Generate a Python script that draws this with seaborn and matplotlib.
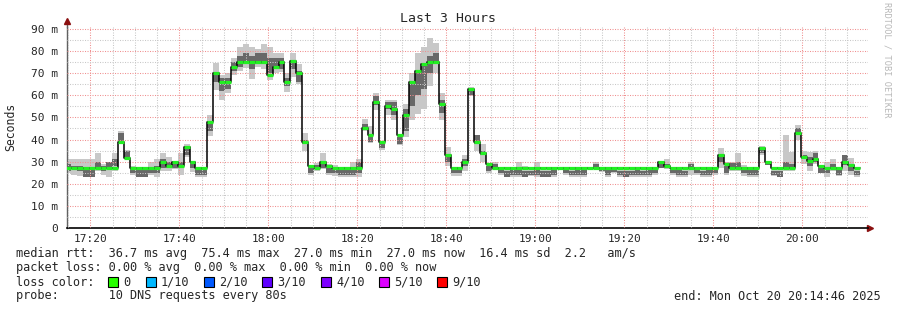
import numpy as np
import pandas as pd
import matplotlib
matplotlib.use("Agg")
import matplotlib.pyplot as plt
import matplotlib.dates as mdates
from matplotlib.patches import Rectangle
import seaborn as sns

# ---------------- data ----------------
step_seconds = 80
first_step = "2025-10-20 17:14:18"
view_start = "2025-10-20 17:14:46"
view_end = "2025-10-20 20:14:46"

median_ms = [27, 27, 27, 27, 27, 27, 27, 27, 27, 39, 31.5, 27, 27, 27, 27, 27,
             30, 28, 30, 28, 36.5, 30, 27, 27, 48, 70, 66, 66, 73,
             75, 75, 75, 75, 75, 69, 73, 75, 66, 75.5, 70,
             39, 28, 27, 30, 28, 27, 27, 27, 27, 27,
             45, 42, 57, 39, 55, 54, 42, 51, 66, 71, 74, 75, 75, 56, 33,
             27, 27, 30, 63, 39, 34, 29,
             27, 27, 27, 27, 27, 27, 27, 27, 27, 27, 27, 27, 27, 27,
             27, 27, 27, 27, 27, 27, 27, 27, 27, 27, 27, 27, 27, 27,
             30, 28, 27, 27, 27, 27, 27, 27, 27, 27, 33, 29,
             27, 27, 27, 27, 27, 36, 30, 27, 27, 27, 27,
             43, 32, 30.5, 31, 28, 27, 27, 27, 30, 28.5, 27]

smoke_lo = [25, 24, 23.5, 23, 23, 26, 24, 23, 26, 38.5, 31, 24, 23, 23, 24, 23,
            26, 26, 26.5, 24, 32, 25.5, 23, 23, 41.5, 62.5, 58, 61, 69,
            71, 72.5, 67.5, 73, 72, 67, 70, 70.7, 61.5, 68.5, 65,
            35, 24, 26, 26.5, 24, 23.5, 23, 23, 23, 23,
            44, 38.5, 53.5, 35.5, 51, 49, 37.5, 41, 49, 51.5, 54, 64, 70, 49, 28,
            23.5, 23.5, 26, 59.5, 35, 30, 25,
            26.3, 24, 23, 23, 23, 23, 23.3, 23, 23, 23, 23, 26.5, 24, 23,
            23, 23, 26.3, 26.5, 25.5, 23, 25, 23, 23, 23, 23, 23, 23, 24,
            27, 26.5, 24, 23, 23, 24, 24, 23, 23, 24, 27, 24,
            26, 26, 23.7, 23, 23, 33, 28.5, 23.7, 23, 26, 26,
            40, 29, 26, 29, 24.7, 23, 26, 23.7, 26, 24, 23]

smoke_hi = [31, 31, 31, 31, 31, 34, 29, 30, 34, 44, 35.5, 28, 27, 27, 30, 31,
            34, 32, 30.5, 34, 38, 30.5, 27, 27, 51, 74.5, 69, 70, 77,
            82, 83, 82, 81, 83, 82, 79, 79, 70, 79, 74,
            43, 28.5, 29.5, 34, 29, 28.5, 27, 27, 30, 31,
            49.5, 46, 61, 39.5, 58, 58, 42, 56, 70, 79, 82, 86, 83.5, 61, 36.5,
            27.5, 27.5, 33, 63.7, 42, 38, 29.5,
            30, 27.8, 27, 27, 30, 28, 27, 30, 27.4, 27, 27, 27, 27, 27,
            27, 27, 27.4, 30, 27.8, 27, 27, 27, 27, 27, 27, 27, 27, 27,
            30, 31, 27.8, 27, 27, 30, 27.8, 27, 27, 27, 36, 30,
            30, 34, 28.5, 27, 27, 37, 30, 27, 27, 42, 34.5,
            46.5, 35, 34.5, 35, 28.5, 30, 31, 27, 33, 31.5, 27]

core_lo = [26, 26.5, 26, 23, 23, 27, 26, 27, 28, 39, 31.5, 25, 23, 23, 25, 25,
           27, 27, 27, 27, 33, 27, 24, 24, 44, 66, 62, 63, 71,
           73, 74, 72, 74, 74, 70, 72, 72, 64, 72, 66,
           38, 25, 26.5, 27, 25, 25, 24, 24, 24, 25,
           44.5, 39, 55.5, 36, 54, 51, 38, 44, 55, 60, 63, 70, 74, 52, 30,
           25, 25, 28, 60, 38, 33, 26,
           27, 25, 23, 24, 24, 23, 24, 24, 23, 23, 24, 26.5, 25, 24,
           24, 24, 26.5, 27, 26, 24, 25.5, 24, 23, 24, 24, 24, 24, 25,
           27, 27, 25, 24, 24, 27, 25, 24, 24, 25, 30, 25,
           26.5, 27, 25, 24, 24, 34, 28.5, 24, 23, 27, 27,
           42, 31, 28, 30, 25, 25, 27, 24, 28.5, 26, 24]

core_hi = [29, 28, 28, 27, 27, 30, 28, 30, 31, 43, 35, 27.5, 26.5, 26.5, 27, 28,
           31, 30, 30, 30, 37, 30, 26.5, 27, 48, 70, 68, 68, 75,
           78, 79, 78, 79, 79, 77, 77, 77, 68, 76, 71,
           40, 27.5, 28.5, 30, 28, 27, 26.5, 27, 27, 30,
           47, 42, 59.5, 39, 57, 57, 41, 54, 66, 70, 74, 78, 79, 58, 33,
           27, 27, 31, 63, 42, 35, 28,
           29, 27, 26, 26.5, 27, 26, 26, 27, 26, 26, 26.5, 27, 27, 26,
           26.5, 26.5, 27, 29, 27.5, 26.5, 27, 26, 26, 26, 26.5, 26, 26.5, 27,
           30, 29, 27, 26.5, 26, 29, 27, 26, 26.5, 27, 33, 28,
           29.5, 30, 27, 26.5, 26.5, 36, 30, 26, 26, 30, 29,
           45, 33, 32, 34, 28, 27, 29, 26.5, 33, 29, 26]

y_ticks = [0, 10, 20, 30, 40, 50, 60, 70, 80, 90]

legend_lines = [
    "median rtt:  36.7 ms avg  75.4 ms max  27.0 ms min  27.0 ms now  16.4 ms sd  2.2   am/s",
    "packet loss: 0.00 % avg  0.00 % max  0.00 % min  0.00 % now",
    "loss color:",
    "probe:       10 DNS requests every 80s",
]
loss_labels = ["0", "1/10", "2/10", "3/10", "4/10", "5/10", "9/10"]
loss_colors = ["#26ff00", "#00b8ff", "#0059ff", "#5e00ff", "#7e00ff", "#dd00ff", "#ff0000"]
end_text = "end: Mon Oct 20 20:14:46 2025"

# ---------------- figure ----------------
sns.set_style("white")
plt.rcParams["font.family"] = ["DejaVu Sans Mono", "DejaVu Sans"]

W, H = 897, 310
fig = plt.figure(figsize=(W / 100, H / 100), dpi=100, facecolor="white")
ax = fig.add_axes([67 / W, 1 - 228 / H, (868 - 67) / W, (228 - 27) / H])
ax.set_facecolor("white")

n = len(median_ms)
edges = pd.Timestamp(first_step) + pd.to_timedelta(np.arange(n + 1) * step_seconds, unit="s")
xe = mdates.date2num(edges.to_pydatetime())

def ext(a):
    a = list(a)
    return np.array(a + [a[-1]], dtype=float)

ax.fill_between(xe, ext(smoke_lo), ext(smoke_hi), step="post", color="#c8c8c8", lw=0, zorder=1)
ax.fill_between(xe, ext(core_lo), ext(core_hi), step="post", color="#686868", lw=0, zorder=2)

df = pd.DataFrame({"t": xe, "ms": ext(median_ms)})
sns.lineplot(data=df, x="t", y="ms", ax=ax, color="black", lw=1.1,
             drawstyle="steps-post", estimator=None, zorder=4)
ax.hlines(median_ms, xe[:-1], xe[1:], colors="#22f022", lw=2.3, zorder=5)

x0 = mdates.date2num(pd.Timestamp(view_start).to_pydatetime())
x1 = mdates.date2num(pd.Timestamp(view_end).to_pydatetime())
ax.set_xlim(x0, x1)
ax.set_ylim(0, 90.9)

ax.xaxis.set_major_locator(mdates.MinuteLocator(byminute=[0, 20, 40]))
ax.xaxis.set_minor_locator(mdates.MinuteLocator(byminute=range(0, 60, 5)))
ax.xaxis.set_major_formatter(mdates.DateFormatter("%H:%M"))
ax.set_yticks(y_ticks)
ax.set_yticks(np.arange(5, 91, 10), minor=True)
ax.set_yticklabels(["0" if v == 0 else f"{v} m" for v in y_ticks])

ax.grid(which="minor", color="#c8c8c8", linestyle=(0, (1, 1.4)), lw=0.75, zorder=3)
ax.grid(which="major", color="#f09090", linestyle=(0, (1, 1.4)), lw=0.75, zorder=3)
ax.set_axisbelow(False)

ax.tick_params(which="major", length=2.5, width=0.8, direction="out", color="black",
               labelsize=8, pad=2)
ax.tick_params(which="minor", length=1.5, width=0.6, direction="out", color="black")
ax.tick_params(axis="y", pad=4)
ax.set_xlabel("")
ax.set_ylabel("")

for s in ["top", "right"]:
    ax.spines[s].set_visible(False)
ax.spines["left"].set_color("#606060")
ax.spines["left"].set_linewidth(1)
ax.spines["bottom"].set_color("black")
ax.spines["bottom"].set_linewidth(1.2)

# axis arrows
ax.plot([0, 0], [1, 1.03], transform=ax.transAxes, color="#606060", lw=1, clip_on=False)
ax.plot([0], [1.03], marker="^", ms=4, color="#8b1010", transform=ax.transAxes, clip_on=False)
ax.plot([1.003], [0], marker=">", ms=4, color="#8b1010", transform=ax.transAxes, clip_on=False)

# texts
fig.text(448 / W, 1 - 19 / H, "Last 3 Hours", ha="center", va="center", fontsize=9.5)
fig.text(11 / W, 1 - 127 / H, "Seconds", rotation=90, ha="center", va="center", fontsize=8.3)
fig.text(887 / W, 1 - 60 / H, "RRDTOOL / TOBI OETIKER", rotation=270, ha="center",
         va="center", fontsize=6.2, color="#b8b8b8")

ys = [254, 268, 282, 296]
for txt, y in zip(legend_lines, ys):
    fig.text(16 / W, 1 - y / H, txt, ha="left", va="center", fontsize=8.6)
fig.text(881 / W, 1 - 296 / H, end_text, ha="right", va="center", fontsize=8.6)

box_x = [108, 146, 204, 262, 321, 379, 437]
for lab, col, bx in zip(loss_labels, loss_colors, box_x):
    fig.patches.append(Rectangle((bx / W, 1 - 287 / H), 10 / W, 10 / H,
                                 transform=fig.transFigure, facecolor=col,
                                 edgecolor="black", lw=0.8))
    fig.text((bx + 15) / W, 1 - 282 / H, lab, ha="left", va="center", fontsize=8.6)

fig.savefig("out.png", dpi=100, facecolor="white")
